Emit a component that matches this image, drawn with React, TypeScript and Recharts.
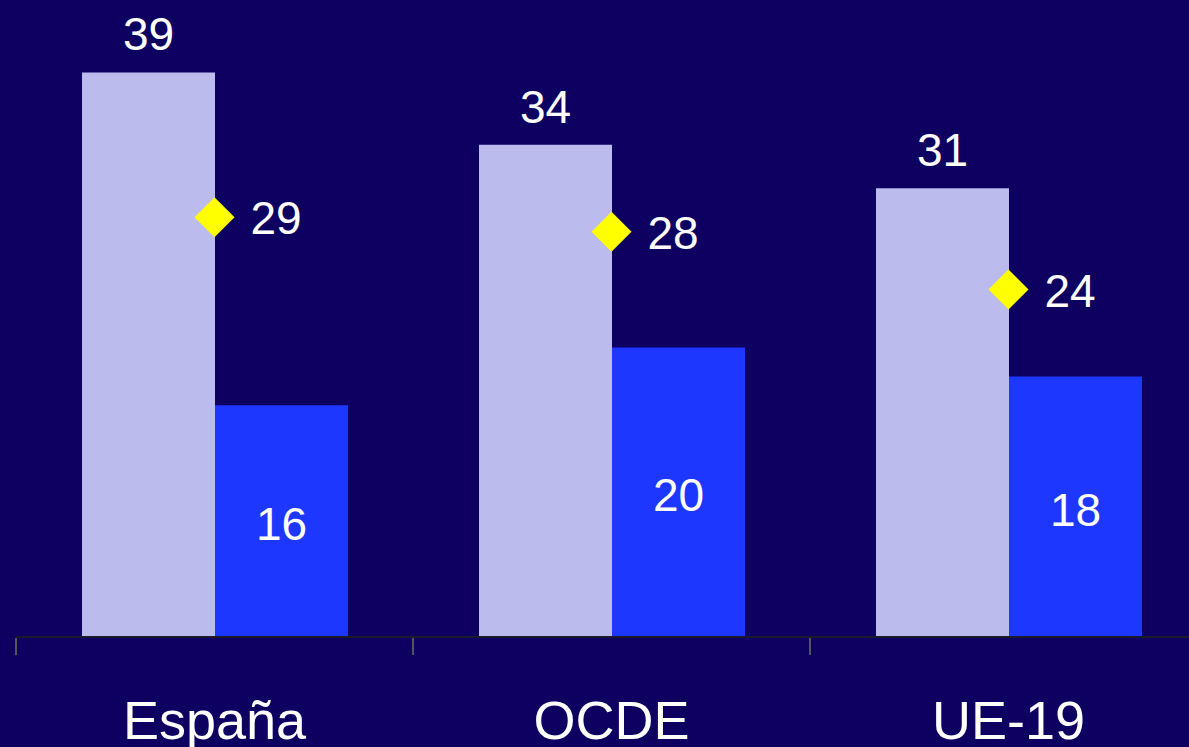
import React from "react";
import { ComposedChart, Bar, Line, XAxis, YAxis, LabelList } from "recharts";

const categories = ["España", "OCDE", "UE-19"];
const seriesLight = [39, 34, 31];
const seriesBlue = [16, 20, 18];
const seriesMarker = [29, 28, 24];

const data = categories.map((name, i) => ({
  name,
  light: seriesLight[i],
  blue: seriesBlue[i],
  marker: seriesMarker[i],
}));

const BG = "#0E0060";
const LIGHT = "#BBBBEE";
const BLUE = "#1E37FF";
const YELLOW = "#FFFF00";
const FONT = "'Liberation Sans', Arial, sans-serif";

const CHART_W = 1207;
const CHART_H = 747;
const MARGIN_LEFT = 16;
const PLOT_BOTTOM = 637;
const BAND = (CHART_W - MARGIN_LEFT) / categories.length;

const CategoryTick = (props: any) => {
  const { x, payload } = props;
  const left = x - BAND / 2;
  return (
    <g>
      <line x1={left} y1={PLOT_BOTTOM + 1} x2={left} y2={PLOT_BOTTOM + 18} stroke="#555555" strokeWidth={2} />
      <line x1={left + BAND} y1={PLOT_BOTTOM + 1} x2={left + BAND} y2={PLOT_BOTTOM + 18} stroke="#555555" strokeWidth={2} />
      <text x={x} y={739} textAnchor="middle" fill="#FFFFFF" fontFamily={FONT} fontSize={54}>
        {payload.value}
      </text>
    </g>
  );
};

const TopLabel = (props: any) => {
  const { x, y, width, value } = props;
  return (
    <text x={x + width / 2} y={y - 22} textAnchor="middle" fill="#FFFFFF" fontFamily={FONT} fontSize={46}>
      {value}
    </text>
  );
};

const CenterLabel = (props: any) => {
  const { x, y, width, height, value } = props;
  return (
    <text x={x + width / 2} y={y + height / 2 + 19} textAnchor="middle" fill="#FFFFFF" fontFamily={FONT} fontSize={46}>
      {value}
    </text>
  );
};

const Diamond = (props: any) => {
  const { cx, cy } = props;
  if (cx == null || cy == null) return <g />;
  const r = 20;
  return (
    <polygon
      points={`${cx},${cy - r} ${cx + r},${cy} ${cx},${cy + r} ${cx - r},${cy}`}
      fill={YELLOW}
    />
  );
};

const MarkerLabel = (props: any) => {
  const { x, y, value } = props;
  return (
    <text x={x + 36} y={y + 17} textAnchor="start" fill="#FFFFFF" fontFamily={FONT} fontSize={46}>
      {value}
    </text>
  );
};

export default function App() {
  return (
    <div
      style={{
        position: "fixed",
        left: 0,
        top: 0,
        width: 1189,
        height: 747,
        overflow: "hidden",
        background: BG,
      }}
    >
      <ComposedChart
        width={CHART_W}
        height={CHART_H}
        data={data}
        margin={{ top: 0, right: 0, bottom: 0, left: MARGIN_LEFT }}
        barCategoryGap={66}
        barGap={0}
      >
        <XAxis
          dataKey="name"
          height={CHART_H - PLOT_BOTTOM}
          axisLine={{ stroke: "#1C1A2A", strokeWidth: 2 }}
          tickLine={false}
          tick={<CategoryTick />}
          interval={0}
        />
        <YAxis hide domain={[0, 44]} />
        <Bar dataKey="light" fill={LIGHT} isAnimationActive={false}>
          <LabelList dataKey="light" content={<TopLabel />} />
        </Bar>
        <Bar dataKey="blue" fill={BLUE} isAnimationActive={false}>
          <LabelList dataKey="blue" content={<CenterLabel />} />
        </Bar>
        <Line
          dataKey="marker"
          stroke="none"
          dot={<Diamond />}
          activeDot={false}
          isAnimationActive={false}
        >
          <LabelList dataKey="marker" content={<MarkerLabel />} />
        </Line>
      </ComposedChart>
    </div>
  );
}
